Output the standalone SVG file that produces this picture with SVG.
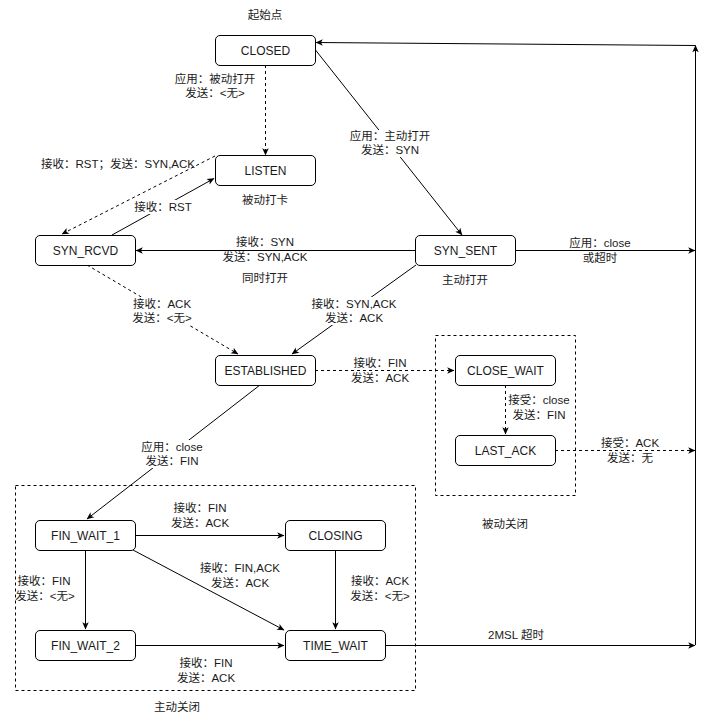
<svg xmlns="http://www.w3.org/2000/svg" width="704" height="723" viewBox="0 0 704 723">
<style>
text{font-family:"Liberation Sans","Noto Sans CJK SC",sans-serif;fill:#1a1a1a}
.n rect{fill:#fff;stroke:#000;stroke-width:1}
.n text{font-size:12px;text-anchor:middle}
.l{font-size:11.5px;text-anchor:middle}
.ls{font-size:11.5px;text-anchor:start}
.e{fill:none;stroke:#000;stroke-width:1;marker-end:url(#a)}
.d{stroke-dasharray:3,3}
.bg{fill:#fff}
.box{fill:none;stroke:#000;stroke-width:1;stroke-dasharray:3,3}
</style>
<defs>
<marker id="a" viewBox="0 0 10 10" refX="9" refY="5" markerWidth="8" markerHeight="8" markerUnits="userSpaceOnUse" orient="auto">
<path d="M0.5,1 L9.5,5 L0.5,9 L2.8,5 z" fill="#000"/>
</marker>
</defs>
<rect width="704" height="723" fill="#fff"/>

<g id="containers">
<rect class="box" x="15.5" y="485.5" width="400" height="205"/>
<rect class="box" x="435.5" y="335.5" width="140" height="160"/>
</g>

<g id="connectors">
<path class="e d" d="M265.5,65 L265.5,155"/>
<path class="e" d="M315.5,50 L462,235"/>
<path class="e d" d="M215,156 L62,234"/>
<path class="e" d="M112,235 L214,178.5"/>
<path class="e" d="M415,250.5 L136,250.5"/>
<path class="e" d="M515,250.5 L695,250.5"/>
<path class="e d" d="M87,265 L238,354"/>
<path class="e" d="M416,265 L292,354"/>
<path class="e d" d="M315,370.5 L454,370.5"/>
<path class="e" d="M260,385 L87,519"/>
<path class="e d" d="M505.5,385 L505.5,434"/>
<path class="e d" d="M555,450.5 L695,450.5"/>
<path class="e" d="M135,535.5 L284,535.5"/>
<path class="e" d="M85.5,550 L85.5,629"/>
<path class="e" d="M133,550 L284,630"/>
<path class="e" d="M335.5,550 L335.5,629"/>
<path class="e" d="M135,645.5 L284,645.5"/>
<path class="e" d="M385,645.5 L695,645.5"/>
<path class="e" d="M695.5,645 L695.5,45.5"/>
<path class="e" d="M695.5,45.5 L316,42.5"/>

<rect class="bg" x="347" y="130" width="86" height="27"/>
<rect class="bg" x="133" y="200" width="60" height="14"/>
<rect class="bg" x="130" y="297" width="66" height="28"/>
<rect class="bg" x="309" y="297" width="90" height="28"/>
<rect class="bg" x="139" y="440" width="66" height="28"/>

<text class="l" x="215" y="83">应用：被动打开</text>
<text class="l" x="215" y="97">发送：&lt;无&gt;</text>
<text class="l" x="390" y="140">应用：主动打开</text>
<text class="l" x="390" y="154">发送：SYN</text>
<text class="ls" x="41" y="168">接收：RST；发送：SYN,ACK</text>
<text class="l" x="163" y="211">接收：RST</text>
<text class="l" x="265" y="246">接收：SYN</text>
<text class="l" x="265" y="261">发送：SYN,ACK</text>
<text class="l" x="600" y="247">应用：close</text>
<text class="l" x="600" y="262">或超时</text>
<text class="l" x="162" y="308">接收：ACK</text>
<text class="l" x="162" y="322">发送：&lt;无&gt;</text>
<text class="l" x="354" y="308">接收：SYN,ACK</text>
<text class="l" x="354" y="322">发送：ACK</text>
<text class="l" x="380" y="367">接收：FIN</text>
<text class="l" x="380" y="382">发送：ACK</text>
<text class="l" x="172" y="451">应用：close</text>
<text class="l" x="172" y="465">发送：FIN</text>
<text class="l" x="539" y="404">接受：close</text>
<text class="l" x="539" y="419">发送：FIN</text>
<text class="l" x="630" y="447">接受：ACK</text>
<text class="l" x="630" y="462">发送：无</text>
<text class="l" x="200" y="512">接收：FIN</text>
<text class="l" x="200" y="527">发送：ACK</text>
<text class="l" x="44" y="585">接收：FIN</text>
<text class="l" x="45" y="600">发送：&lt;无&gt;</text>
<text class="l" x="240" y="572">接收：FIN,ACK</text>
<text class="l" x="240" y="587">发送：ACK</text>
<text class="l" x="380" y="585">接收：ACK</text>
<text class="l" x="380" y="600">发送：&lt;无&gt;</text>
<text class="l" x="206" y="667">接收：FIN</text>
<text class="l" x="206" y="682">发送：ACK</text>
<text class="l" x="516" y="639">2MSL 超时</text>
</g>

<g id="notes">
<text class="l" x="265" y="19">起始点</text>
<text class="l" x="265" y="204">被动打卡</text>
<text class="l" x="265" y="282">同时打开</text>
<text class="l" x="465" y="284">主动打开</text>
<text class="l" x="505" y="528">被动关闭</text>
<text class="l" x="177" y="711">主动关闭</text>
</g>

<g id="CLOSED" class="n"><rect x="215.5" y="35.5" width="100" height="30" rx="4.5"/><text x="265.5" y="54.5">CLOSED</text></g>
<g id="LISTEN" class="n"><rect x="215.5" y="155.5" width="100" height="30" rx="4.5"/><text x="265.5" y="174.5">LISTEN</text></g>
<g id="SYN_RCVD" class="n"><rect x="35.5" y="235.5" width="100" height="30" rx="4.5"/><text x="85.5" y="254.5">SYN_RCVD</text></g>
<g id="SYN_SENT" class="n"><rect x="415.5" y="235.5" width="100" height="30" rx="4.5"/><text x="465.5" y="254.5">SYN_SENT</text></g>
<g id="ESTABLISHED" class="n"><rect x="215.5" y="355.5" width="100" height="30" rx="4.5"/><text x="265.5" y="374.5">ESTABLISHED</text></g>
<g id="CLOSE_WAIT" class="n"><rect x="455.5" y="355.5" width="100" height="30" rx="4.5"/><text x="505.5" y="374.5">CLOSE_WAIT</text></g>
<g id="LAST_ACK" class="n"><rect x="455.5" y="435.5" width="100" height="30" rx="4.5"/><text x="505.5" y="454.5">LAST_ACK</text></g>
<g id="FIN_WAIT_1" class="n"><rect x="35.5" y="520.5" width="100" height="30" rx="4.5"/><text x="85.5" y="539.5">FIN_WAIT_1</text></g>
<g id="CLOSING" class="n"><rect x="285.5" y="520.5" width="100" height="30" rx="4.5"/><text x="335.5" y="539.5">CLOSING</text></g>
<g id="FIN_WAIT_2" class="n"><rect x="35.5" y="630.5" width="100" height="30" rx="4.5"/><text x="85.5" y="649.5">FIN_WAIT_2</text></g>
<g id="TIME_WAIT" class="n"><rect x="285.5" y="630.5" width="100" height="30" rx="4.5"/><text x="335.5" y="649.5">TIME_WAIT</text></g>
</svg>
